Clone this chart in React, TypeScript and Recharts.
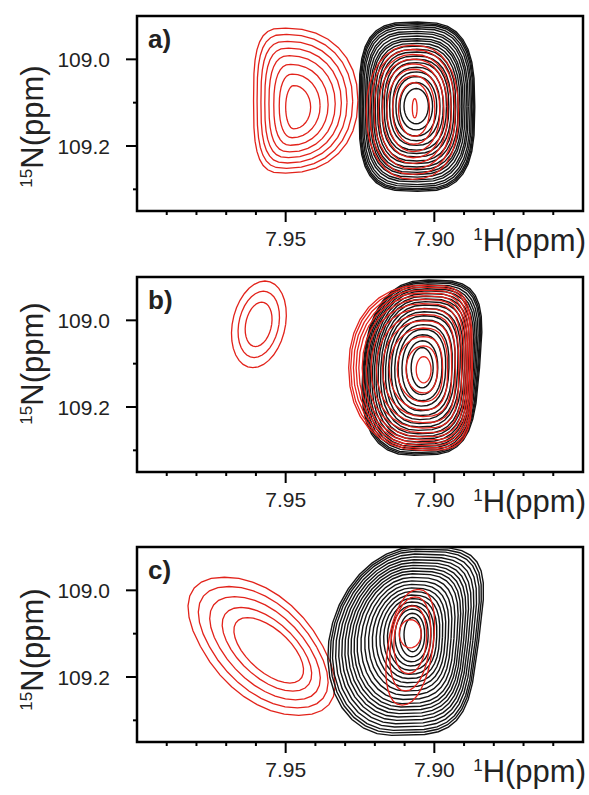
import React from 'react';
import { ScatterChart, Scatter, XAxis, YAxis, ReferenceArea } from 'recharts';

// ---- axes ----
const X_DOMAIN: [number, number] = [7.85, 8.0];
const Y_DOMAIN: [number, number] = [108.9, 109.35];
const xMajorTicks = [7.95, 7.9];
const xMajorLabels = ['7.95', '7.90'];
const xMinorTicks = [7.99, 7.98, 7.97, 7.96, 7.94, 7.93, 7.92, 7.91, 7.89, 7.88, 7.87, 7.86];
const yMajorTicks = [109.0, 109.2];
const yMajorLabels = ['109.0', '109.2'];
const yMinorTicks = [109.1, 109.3];
const panelLabels = ['a)', 'b)', 'c)'];

// ---- contour peaks: [cx, cy, rxLeft, rxRight, ry, shear, expLeft, expRight] (ppm) ----
const peakA1Inner = [7.9473, 109.1105, 0.0027, 0.0057, 0.05, 0, 2, 2];
const peakA1Outer = [7.95, 109.0953, 0.0108, 0.0243, 0.1674, 0, 3.3, 2.2];
const peakA1Levels = [0, 0.2, 0.37, 0.52, 0.65, 0.77, 0.89, 1];

const peakA2Inner = [7.9061, 109.1081, 0.0041, 0.0041, 0.0407, 0, 2, 2];
const peakA2Outer = [7.9057, 109.1093, 0.0196, 0.0193, 0.1953, 0, 3.4, 3];
const peakA2Levels = [0, 0.09, 0.18, 0.25, 0.32, 0.39, 0.44, 0.49, 0.55, 0.59, 0.64, 0.68, 0.72, 0.75, 0.79, 0.83, 0.86, 0.9, 0.93, 0.96, 0.98, 1];

const peakA3Inner = [7.9066, 109.1128, 0.0008, 0.0008, 0.0221, 0, 2, 2];
const peakA3Outer = [7.9074, 109.1221, 0.0155, 0.0155, 0.1547, 0, 2.2, 2.4];
const peakA3Levels = [0, 0.3, 0.43, 0.55, 0.65, 0.74, 0.83, 0.92, 1];

const peakB1Inner = [7.9591, 109.0093, 0.0044, 0.0044, 0.0512, 0.0203, 2, 2];
const peakB1Outer = [7.959, 109.0093, 0.009, 0.009, 0.1, 0.0203, 2, 2];
const peakB1Levels = [0, 0.52, 1];

const peakB2Inner = [7.9041, 109.1093, 0.0037, 0.0037, 0.0465, 0, 2, 2];
const peakB2Outer = [7.9044, 109.1093, 0.0196, 0.0196, 0.2023, 0.012, 2.5, 3.6];
const peakB2Levels = [0, 0.1, 0.19, 0.27, 0.34, 0.41, 0.47, 0.53, 0.58, 0.63, 0.68, 0.72, 0.76, 0.8, 0.84, 0.87, 0.9, 0.93, 0.96, 0.98, 1];

const peakB3Inner = [7.9036, 109.114, 0.0025, 0.0025, 0.0302, 0, 2, 2];
const peakB3Outer = [7.9041, 109.1093, 0.0247, 0.0169, 0.1907, 0, 2.2, 4];
const peakB3Levels = [0, 0.15, 0.28, 0.4, 0.5, 0.59, 0.67, 0.74, 0.8, 0.85, 0.89, 0.93, 0.97, 1];

const peakC1Inner = [7.9557, 109.1384, 0.0093, 0.0093, 0.0756, -0.0944, 2, 2];
const peakC1Outer = [7.9581, 109.1291, 0.0206, 0.0206, 0.1593, -0.0785, 2.2, 2.2];
const peakC1Levels = [0, 0.25, 0.52, 0.77, 1];

const peakC2Inner = [7.9073, 109.1023, 0.0029, 0.0029, 0.0395, 0, 2, 2];
const peakC2Outer = [7.9103, 109.1174, 0.0252, 0.0252, 0.2174, 0.0189, 2.0, 4];
const peakC2Levels = [0, 0.06, 0.12, 0.17, 0.22, 0.27, 0.32, 0.37, 0.42, 0.47, 0.52, 0.57, 0.62, 0.66, 0.7, 0.74, 0.78, 0.82, 0.86, 0.9, 0.94, 0.97, 1];

const peakC3Inner = [7.9081, 109.1, 0.0037, 0.0037, 0.0326, 0, 2, 2];
const peakC3Outer = [7.9081, 109.1314, 0.0076, 0.0076, 0.1337, 0.0203, 2.2, 2.2];
const peakC3Levels = [0, 0.45, 0.75, 1];

const RED = '#e2231b';
const BLACK = '#141414';
const FONT = '"Liberation Sans", Arial, Helvetica, sans-serif';

type Peak = { inner: number[]; outer: number[]; levels: number[]; color: string };

// chart-local geometry
const CH_W = 589;
const CH_H = 260;
const MARGIN = { top: 10, right: 6, bottom: 5, left: 0 };
const PLOT_LEFT = 137;
const PLOT_TOP = 10;
const PLOT_BOTTOM = 205;

const panels: { top: number; titleShift: number; peaks: Peak[] }[] = [
  {
    top: 16,
    titleShift: 13,
    peaks: [
      { inner: peakA1Inner, outer: peakA1Outer, levels: peakA1Levels, color: RED },
      { inner: peakA2Inner, outer: peakA2Outer, levels: peakA2Levels, color: BLACK },
      { inner: peakA3Inner, outer: peakA3Outer, levels: peakA3Levels, color: RED },
    ],
  },
  {
    top: 277,
    titleShift: -11,
    peaks: [
      { inner: peakB1Inner, outer: peakB1Outer, levels: peakB1Levels, color: RED },
      { inner: peakB2Inner, outer: peakB2Outer, levels: peakB2Levels, color: BLACK },
      { inner: peakB3Inner, outer: peakB3Outer, levels: peakB3Levels, color: RED },
    ],
  },
  {
    top: 547,
    titleShift: 5,
    peaks: [
      { inner: peakC1Inner, outer: peakC1Outer, levels: peakC1Levels, color: RED },
      { inner: peakC2Inner, outer: peakC2Outer, levels: peakC2Levels, color: BLACK },
      { inner: peakC3Inner, outer: peakC3Outer, levels: peakC3Levels, color: RED },
    ],
  },
];

function ringPoints(inner: number[], outer: number[], t: number) {
  const p = inner.map((v, i) => v + (outer[i] - v) * t);
  const [cx, cy, rl, rr, ry, sh, el, er] = p;
  const n = 32;
  const pts: { x: number; y: number }[] = [];
  for (let k = 0; k <= n; k++) {
    const th = (2 * Math.PI * k) / n;
    const c = Math.cos(th);
    const s = Math.sin(th);
    const e = c < 0 ? el : er;
    const U = Math.sign(c) * Math.pow(Math.abs(c), 2 / e);
    const V = Math.sign(s) * Math.pow(Math.abs(s), 2 / e);
    const dy = ry * V;
    const x = cx - (U >= 0 ? rr * U : rl * U) + sh * dy;
    pts.push({ x, y: cy + dy });
  }
  return pts;
}

const isIn = (arr: number[], v: number) => arr.findIndex((m) => Math.abs(m - v) < 1e-6);

const XTick = (props: any) => {
  const { x, y, payload } = props;
  const mi = isIn(xMajorTicks, payload.value);
  const major = mi >= 0;
  return (
    <g>
      <line x1={x} x2={x} y1={y} y2={y + (major ? 11 : 4)} stroke="#000" strokeWidth={2} />
      {major && (
        <text x={x} y={y + 35} textAnchor="middle" fontSize={21} fill="#222" fontFamily={FONT}>
          {xMajorLabels[mi]}
        </text>
      )}
    </g>
  );
};

const YTick = (props: any) => {
  const { x, y, payload } = props;
  const mi = isIn(yMajorTicks, payload.value);
  const major = mi >= 0;
  return (
    <g>
      <line x1={x - (major ? 11 : 4)} x2={x} y1={y} y2={y} stroke="#000" strokeWidth={2} />
      {major && (
        <text x={x - 27} y={y + 7.5} textAnchor="end" fontSize={21} fill="#222" fontFamily={FONT}>
          {yMajorLabels[mi]}
        </text>
      )}
    </g>
  );
};

const XTitle = () => (
  <text x={586} y={PLOT_BOTTOM + 40} textAnchor="end" fill="#222" fontFamily={FONT}>
    <tspan fontSize={17} dy={-11}>1</tspan>
    <tspan fontSize={31} dy={11}>H(ppm)</tspan>
  </text>
);

const makeYTitle = (shift: number, label: string) => () => {
  const cx = 43;
  const cy = (PLOT_TOP + PLOT_BOTTOM) / 2 + shift;
  return (
    <g>
      <text x={cx} y={cy} transform={`rotate(-90, ${cx}, ${cy})`} textAnchor="middle" fill="#222" fontFamily={FONT}>
        <tspan fontSize={17} dy={-11}>15</tspan>
        <tspan fontSize={31} dy={11}>N(ppm)</tspan>
      </text>
      <text x={148} y={PLOT_TOP + 32} fontSize={26} fontWeight="bold" fill="#222" fontFamily={FONT}>
        {label}
      </text>
    </g>
  );
};

const Panel = ({ idx }: { idx: number }) => {
  const cfg = panels[idx];
  const series: { key: string; color: string; data: { x: number; y: number }[] }[] = [];
  cfg.peaks.forEach((pk, pi) => {
    pk.levels.forEach((t, li) => {
      series.push({ key: `p${pi}-l${li}`, color: pk.color, data: ringPoints(pk.inner, pk.outer, t) });
    });
  });
  return (
    <div style={{ position: 'absolute', left: 0, top: cfg.top - PLOT_TOP }}>
      <ScatterChart width={CH_W} height={CH_H} margin={MARGIN}>
        <XAxis
          type="number"
          dataKey="x"
          domain={X_DOMAIN}
          reversed
          allowDataOverflow
          ticks={[...xMinorTicks, ...xMajorTicks]}
          interval={0}
          tickSize={0}
          tickMargin={0}
          axisLine={false}
          tickLine={false}
          tick={XTick}
          height={50}
          label={XTitle}
        />
        <YAxis
          type="number"
          dataKey="y"
          domain={Y_DOMAIN}
          reversed
          allowDataOverflow
          ticks={[...yMinorTicks, ...yMajorTicks]}
          interval={0}
          tickSize={0}
          tickMargin={0}
          axisLine={false}
          tickLine={false}
          tick={YTick}
          width={PLOT_LEFT}
          label={makeYTitle(cfg.titleShift, panelLabels[idx])}
        />
        {series.map((s) => (
          <Scatter
            key={s.key}
            data={s.data}
            line={{ stroke: s.color, strokeWidth: s.color === BLACK ? 1.4 : 1.3 }}
            lineType="joint"
            shape={() => <g />}
            legendType="none"
            isAnimationActive={false}
          />
        ))}
        <ReferenceArea
          x1={X_DOMAIN[1]}
          x2={X_DOMAIN[0]}
          y1={Y_DOMAIN[0]}
          y2={Y_DOMAIN[1]}
          fill="none"
          fillOpacity={0}
          stroke="#000"
          strokeWidth={2.5}
          ifOverflow="visible"
        />
      </ScatterChart>
    </div>
  );
};

export default function App() {
  return (
    <div style={{ position: 'fixed', left: 0, top: 0, width: 589, height: 795, background: '#fff', fontFamily: FONT }}>
      <Panel idx={0} />
      <Panel idx={1} />
      <Panel idx={2} />
    </div>
  );
}
